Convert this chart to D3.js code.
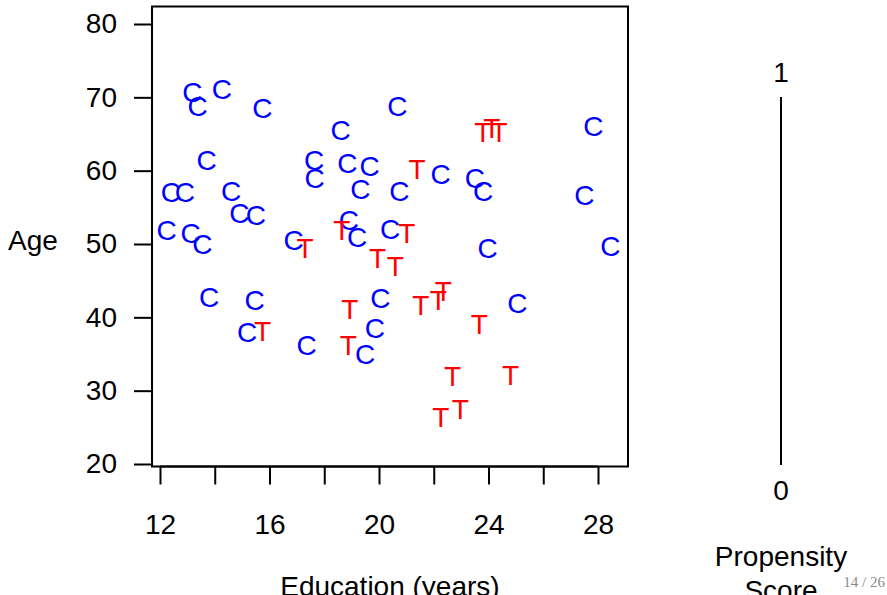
<!DOCTYPE html>
<html>
<head>
<meta charset="utf-8">
<script src="https://cdn.jsdelivr.net/npm/d3@7"></script>
<style>
  html, body { margin: 0; padding: 0; background: #fff; }
  svg text { font-family: "Liberation Sans", Arial, Helvetica, sans-serif; }
</style>
</head>
<body>
<svg id="chart" width="887" height="595"></svg>
<script>
// ---- Data ----
const controlEdu = [13.18, 13.37, 14.26, 15.74, 18.6, 20.67, 27.83, 13.7, 17.63, 17.65,
  18.84, 19.66, 19.32, 12.4, 12.91, 14.6, 14.9, 15.5, 22.25, 23.5,
  23.8, 20.74, 27.5, 20.41, 12.24, 13.12, 13.55, 16.88, 18.9, 19.2,
  23.97, 28.45, 13.79, 15.46, 15.18, 17.36, 20.05, 19.85, 19.49, 25.05];
const controlAge = [70.7, 68.8, 71.2, 68.6, 65.5, 68.8, 66.1, 61.5, 61.4, 59.0,
  61.0, 60.6, 57.5, 57.05, 57.05, 57.2, 54.3, 54.0, 59.5, 59.0,
  57.2, 57.2, 56.7, 52.1, 51.9, 51.5, 49.95, 50.5, 53.3, 50.95,
  49.45, 49.7, 42.77, 42.4, 37.96, 36.2, 42.6, 38.5, 35.0, 41.95];
const treatedEdu = [23.79, 24.12, 24.39, 21.39, 21.02, 17.3, 18.64, 19.95, 20.6, 18.93,
  18.88, 15.75, 21.53, 22.17, 22.35, 23.66, 22.69, 24.81, 22.97, 22.26];
const treatedAge = [65.34, 65.82, 65.34, 60.2, 51.5, 49.45, 51.95, 48.1, 47.0, 41.2,
  36.2, 38.1, 41.7, 42.4, 43.6, 39.1, 32.0, 32.2, 27.5, 26.4];

const xTicks = [12, 14, 16, 18, 20, 22, 24, 26, 28];
const xTickLabels = ["12", "", "16", "", "20", "", "24", "", "28"];
const yTicks = [20, 30, 40, 50, 60, 70, 80];
const yTickLabels = ["20", "30", "40", "50", "60", "70", "80"];
const propTicks = [0, 1];
const propTickLabels = ["0", "1"];

const xTitle = "Education (years)";
const yTitle = "Age";
const propTitle = ["Propensity", "Score"];
const pageLabel = "14 / 26";

// ---- Layout ----
const svg = d3.select("#chart");
const FS = 28;
const box = { left: 152, right: 628, top: 6.5, bottom: 466.5 };

const x = d3.scaleLinear().domain([12, 28]).range([160, 598]);
const y = d3.scaleLinear().domain([20, 80]).range([464, 24]);
const p = d3.scaleLinear().domain([0, 1]).range([465, 97]);

// Box
svg.append("rect")
  .attr("x", box.left).attr("y", box.top)
  .attr("width", box.right - box.left).attr("height", box.bottom - box.top)
  .attr("fill", "none").attr("stroke", "#000").attr("stroke-width", 2);

// X axis
const xAxis = d3.axisBottom(x).tickValues(xTicks)
  .tickFormat((d, i) => xTickLabels[i]).tickSize(18).tickPadding(30);
const gx = svg.append("g").attr("transform", `translate(0,${box.bottom})`).call(xAxis);
gx.select(".domain").attr("stroke-width", 2).attr("d", `M${x(12)},0H${x(28)}`);
gx.selectAll(".tick line").attr("stroke-width", 2);
gx.selectAll(".tick text").attr("font-size", FS).attr("fill", "#000")
  .attr("font-family", "Liberation Sans, Arial, sans-serif");

// Y axis
const yAxis = d3.axisLeft(y).tickValues(yTicks)
  .tickFormat((d, i) => yTickLabels[i]).tickSize(18).tickPadding(17);
const gy = svg.append("g").attr("transform", `translate(${box.left},0)`).call(yAxis);
gy.select(".domain").attr("stroke-width", 2).attr("d", `M0,${y(20)}V${y(80)}`);
gy.selectAll(".tick line").attr("stroke-width", 2);
gy.selectAll(".tick text").attr("font-size", FS).attr("fill", "#000")
  .attr("font-family", "Liberation Sans, Arial, sans-serif");

// Axis titles
svg.append("text").attr("x", x(20.4)).attr("y", 596)
  .attr("text-anchor", "middle").attr("font-size", FS).text(xTitle);
svg.append("text").attr("x", 8).attr("y", y(50.55)).attr("dy", "0.36em")
  .attr("text-anchor", "start").attr("font-size", FS).text(yTitle);

// Points
const pts = svg.append("g");
pts.selectAll("text.c").data(controlEdu).join("text").attr("class", "c")
  .attr("x", d => x(d)).attr("y", (d, i) => y(controlAge[i])).attr("dy", "0.36em")
  .attr("text-anchor", "middle").attr("font-size", FS).attr("fill", "#0000ff").text("C");
pts.selectAll("text.t").data(treatedEdu).join("text").attr("class", "t")
  .attr("x", d => x(d)).attr("y", (d, i) => y(treatedAge[i])).attr("dy", "0.36em")
  .attr("text-anchor", "middle").attr("font-size", FS).attr("fill", "#ff0000").text("T");

// Propensity score axis
const px = 781;
svg.append("line").attr("x1", px).attr("x2", px)
  .attr("y1", p(0)).attr("y2", p(1)).attr("stroke", "#000").attr("stroke-width", 2);
svg.selectAll("text.pl").data(propTicks).join("text").attr("class", "pl")
  .attr("x", px).attr("y", d => d === 0 ? p(0) + 35 : p(1) - 15)
  .attr("text-anchor", "middle").attr("font-size", FS).text((d, i) => propTickLabels[i]);
svg.selectAll("text.pt").data(propTitle).join("text").attr("class", "pt")
  .attr("x", px).attr("y", (d, i) => 566 + i * 34)
  .attr("text-anchor", "middle").attr("font-size", FS).text(d => d);

// Page number
svg.append("text").attr("x", 885).attr("y", 587).attr("text-anchor", "end")
  .attr("font-size", 15).attr("fill", "#8a8a8a")
  .style("font-family", "'Liberation Serif', 'DejaVu Serif', serif")
  .text(pageLabel);
</script>
</body>
</html>
